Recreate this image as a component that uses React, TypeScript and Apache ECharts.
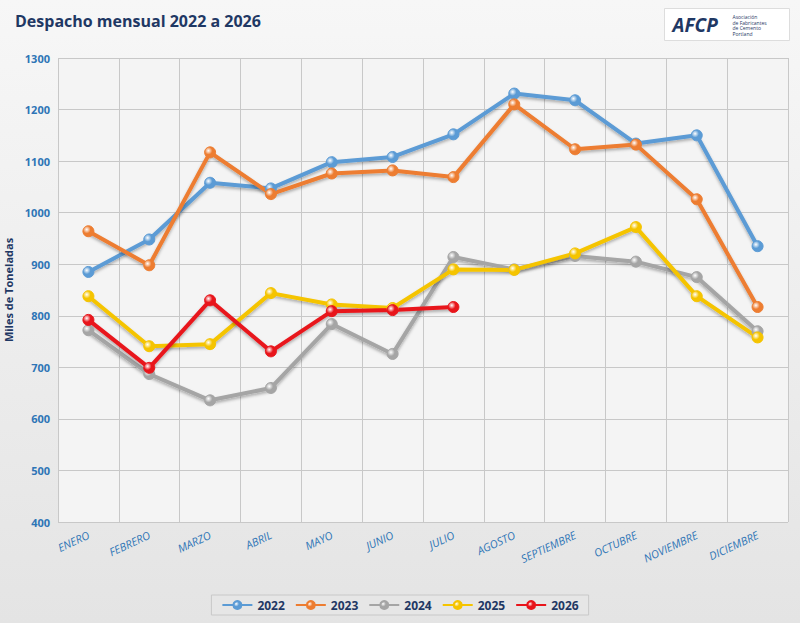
import React, { useEffect, useRef } from 'react';
import * as echarts from 'echarts';

const months = ['ENERO', 'FEBRERO', 'MARZO', 'ABRIL', 'MAYO', 'JUNIO', 'JULIO', 'AGOSTO', 'SEPTIEMBRE', 'OCTUBRE', 'NOVIEMBRE', 'DICIEMBRE'];
const s2022 = [885, 948, 1058, 1047, 1098, 1108, 1152, 1231, 1218, 1134, 1150, 935];
const s2023 = [964, 898, 1117, 1036, 1076, 1082, 1069, 1210, 1123, 1132, 1026, 817];
const s2024 = [772, 687, 636, 660, 784, 726, 914, 890, 916, 905, 875, 770];
const s2025 = [838, 741, 745, 844, 822, 815, 890, 889, 921, 972, 838, 758];
const s2026 = [792, 699, 830, 731, 809, 811, 817];

const seriesDefs = [
  { name: '2022', data: s2022, color: '#5b9bd5' },
  { name: '2023', data: s2023, color: '#ed7d31' },
  { name: '2024', data: s2024, color: '#a5a5a5' },
  { name: '2025', data: s2025, color: '#f5c400' },
  { name: '2026', data: s2026, color: '#e8151b' },
];

const App: React.FC = () => {
  const ref = useRef<HTMLDivElement>(null);

  useEffect(() => {
    if (!ref.current) return;
    const chart = echarts.init(ref.current, null, { renderer: 'svg' });
    chart.setOption({
      animation: false,
      backgroundColor: new echarts.graphic.LinearGradient(0, 0, 0, 1, [
        { offset: 0, color: '#f7f7f7' },
        { offset: 1, color: '#e4e4e4' },
      ]),
      textStyle: { fontFamily: 'Open Sans' },
      title: {
        text: 'Despacho mensual 2022 a 2026',
        left: 10,
        top: 8,
        textStyle: { color: '#1f3864', fontSize: 16, fontWeight: 'bold' },
      },
      graphic: [
        {
          type: 'group',
          right: 10,
          top: 8,
          children: [
            { type: 'rect', shape: { width: 125, height: 32 }, style: { fill: '#ffffff', stroke: '#dddddd' } },
            { type: 'text', x: 8, y: 7, style: { text: 'AFCP', fill: '#1f3864', font: 'italic bold 19px Open Sans' } },
            { type: 'text', x: 68, y: 6, style: { text: 'Asociación\nde Fabricantes\nde Cemento\nPortland', fill: '#1f3864', font: '5px Open Sans', lineHeight: 5.5 } },
          ],
        },
      ],
      grid: { left: 58, right: 12, top: 58, bottom: 101, outerBoundsMode: 'none', backgroundColor: '#f4f4f4', show: true, borderWidth: 0 },
      legend: {
        bottom: 8,
        itemWidth: 30,
        itemHeight: 10,
        itemGap: 10,
        borderColor: '#c8c8c8',
        borderWidth: 1,
        padding: [4, 10],
        backgroundColor: '#e6e6e6',
        textStyle: { color: '#1f3864', fontWeight: 'bold', fontSize: 12 },
        data: seriesDefs.map((s) => s.name),
      },
      xAxis: {
        type: 'category',
        data: months,
        boundaryGap: true,
        axisLine: { show: false },
        axisTick: { show: false },
        splitLine: { show: true, interval: 0, lineStyle: { color: '#c8c8c8' } },
        axisLabel: { color: '#2e75b6', fontStyle: 'italic', fontSize: 11, rotate: 25, interval: 0, margin: 12 },
      },
      yAxis: {
        type: 'value',
        min: 400,
        max: 1300,
        interval: 100,
        name: 'Miles de Toneladas',
        nameLocation: 'middle',
        nameGap: 42,
        nameTextStyle: { color: '#1f3864', fontSize: 11, fontWeight: 'bold' },
        axisLine: { show: false },
        axisTick: { show: false },
        splitLine: { lineStyle: { color: '#c8c8c8' } },
        axisLabel: { color: '#2e75b6', fontWeight: 'bold', fontSize: 11, formatter: (v: number) => String(v) },
      },
      series: seriesDefs.map((s) => ({
        name: s.name,
        type: 'line',
        data: s.data,
        symbol: 'circle',
        symbolSize: 11,
        lineStyle: { width: 4, color: s.color, shadowColor: 'rgba(0,0,0,0.3)', shadowBlur: 3, shadowOffsetY: 2 },
        itemStyle: {
          color: new echarts.graphic.RadialGradient(0.35, 0.35, 0.7, [
            { offset: 0, color: '#ffffff' },
            { offset: 0.5, color: s.color },
            { offset: 1, color: s.color },
          ]),
          borderColor: s.color,
          borderWidth: 1,
        },
      })),
    });
    return () => chart.dispose();
  }, []);

  return <div ref={ref} style={{ position: 'absolute', left: 0, top: 0, width: 800, height: 623 }} />;
};

export default App;
